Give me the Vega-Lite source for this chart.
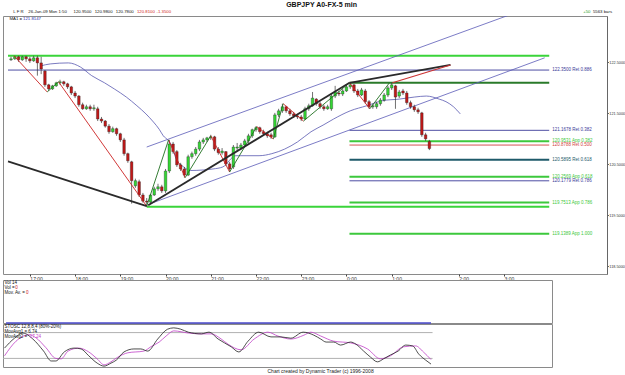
{
  "$schema": "https://vega.github.io/schema/vega-lite/v6.json",
  "background": "white",
  "padding": {"left": 2, "top": 0, "right": 0, "bottom": 0},
  "title": {"text": "GBPJPY A0-FX-5 min", "fontSize": 7, "fontWeight": "bold", "font": "Liberation Sans", "anchor": "middle", "offset": 2, "dx": 8, "color": "#111"},
  "config": {
    "font": "Liberation Sans",
    "view": {"stroke": "#8a8a8a", "strokeWidth": 1},
    "text": {"font": "Liberation Sans"}
  },
  "datasets": {
    "candles": [
      {"t":"2009-01-25T16:35","o":122.55,"h":122.61,"l":122.53,"c":122.57},
      {"t":"2009-01-25T16:40","o":122.57,"h":122.63,"l":122.55,"c":122.61},
      {"t":"2009-01-25T16:45","o":122.61,"h":122.63,"l":122.51,"c":122.55},
      {"t":"2009-01-25T16:50","o":122.55,"h":122.63,"l":122.53,"c":122.61},
      {"t":"2009-01-25T16:55","o":122.61,"h":122.63,"l":122.51,"c":122.57},
      {"t":"2009-01-25T17:00","o":122.57,"h":122.61,"l":122.49,"c":122.53},
      {"t":"2009-01-25T17:05","o":122.53,"h":122.63,"l":122.51,"c":122.59},
      {"t":"2009-01-25T17:10","o":122.59,"h":122.63,"l":122.24,"c":122.49},
      {"t":"2009-01-25T17:15","o":122.49,"h":122.61,"l":122.27,"c":122.37},
      {"t":"2009-01-25T17:20","o":122.33,"h":122.35,"l":122.02,"c":122.06},
      {"t":"2009-01-25T17:25","o":122.06,"h":122.08,"l":121.94,"c":121.98},
      {"t":"2009-01-25T17:30","o":121.98,"h":122.06,"l":121.96,"c":122.04},
      {"t":"2009-01-25T17:35","o":122.04,"h":122.12,"l":122.02,"c":122.10},
      {"t":"2009-01-25T17:40","o":122.10,"h":122.16,"l":122.06,"c":122.12},
      {"t":"2009-01-25T17:45","o":122.12,"h":122.14,"l":122.04,"c":122.08},
      {"t":"2009-01-25T17:50","o":122.08,"h":122.10,"l":121.98,"c":122.02},
      {"t":"2009-01-25T17:55","o":122.02,"h":122.04,"l":121.86,"c":121.90},
      {"t":"2009-01-25T18:00","o":121.90,"h":121.94,"l":121.80,"c":121.84},
      {"t":"2009-01-25T18:05","o":121.84,"h":121.86,"l":121.63,"c":121.67},
      {"t":"2009-01-25T18:10","o":121.67,"h":121.71,"l":121.57,"c":121.59},
      {"t":"2009-01-25T18:15","o":121.59,"h":121.67,"l":121.57,"c":121.63},
      {"t":"2009-01-25T18:20","o":121.63,"h":121.67,"l":121.55,"c":121.59},
      {"t":"2009-01-25T18:25","o":121.59,"h":121.67,"l":121.55,"c":121.61},
      {"t":"2009-01-25T18:30","o":121.59,"h":121.63,"l":121.35,"c":121.39},
      {"t":"2009-01-25T18:35","o":121.39,"h":121.43,"l":121.31,"c":121.35},
      {"t":"2009-01-25T18:40","o":121.35,"h":121.37,"l":121.22,"c":121.25},
      {"t":"2009-01-25T18:45","o":121.25,"h":121.29,"l":121.10,"c":121.14},
      {"t":"2009-01-25T18:50","o":121.14,"h":121.24,"l":121.12,"c":121.20},
      {"t":"2009-01-25T18:55","o":121.20,"h":121.22,"l":121.06,"c":121.10},
      {"t":"2009-01-25T19:00","o":121.10,"h":121.12,"l":120.94,"c":120.98},
      {"t":"2009-01-25T19:05","o":120.98,"h":121.02,"l":120.67,"c":120.71},
      {"t":"2009-01-25T19:10","o":120.71,"h":120.73,"l":120.53,"c":120.57},
      {"t":"2009-01-25T19:15","o":120.55,"h":120.57,"l":119.73,"c":120.18},
      {"t":"2009-01-25T19:20","o":120.08,"h":120.22,"l":120.04,"c":120.18},
      {"t":"2009-01-25T19:25","o":120.16,"h":120.20,"l":119.86,"c":119.90},
      {"t":"2009-01-25T19:30","o":119.90,"h":119.94,"l":119.75,"c":119.78},
      {"t":"2009-01-25T19:35","o":119.78,"h":119.84,"l":119.67,"c":119.76},
      {"t":"2009-01-25T19:40","o":119.76,"h":119.92,"l":119.73,"c":119.90},
      {"t":"2009-01-25T19:45","o":119.90,"h":120.06,"l":119.88,"c":120.02},
      {"t":"2009-01-25T19:50","o":120.02,"h":120.12,"l":119.98,"c":120.06},
      {"t":"2009-01-25T19:55","o":120.06,"h":120.10,"l":119.94,"c":119.98},
      {"t":"2009-01-25T20:00","o":119.98,"h":120.41,"l":119.94,"c":120.37},
      {"t":"2009-01-25T20:05","o":120.37,"h":120.98,"l":120.33,"c":120.90},
      {"t":"2009-01-25T20:10","o":120.90,"h":120.94,"l":120.71,"c":120.75},
      {"t":"2009-01-25T20:15","o":120.75,"h":120.78,"l":120.45,"c":120.49},
      {"t":"2009-01-25T20:20","o":120.49,"h":120.53,"l":120.37,"c":120.41},
      {"t":"2009-01-25T20:25","o":120.41,"h":120.45,"l":120.24,"c":120.29},
      {"t":"2009-01-25T20:30","o":120.29,"h":120.69,"l":120.27,"c":120.65},
      {"t":"2009-01-25T20:35","o":120.65,"h":120.75,"l":120.61,"c":120.71},
      {"t":"2009-01-25T20:40","o":120.71,"h":120.84,"l":120.67,"c":120.80},
      {"t":"2009-01-25T20:45","o":120.80,"h":120.98,"l":120.76,"c":120.94},
      {"t":"2009-01-25T20:50","o":120.94,"h":121.02,"l":120.90,"c":120.98},
      {"t":"2009-01-25T20:55","o":120.98,"h":121.04,"l":120.94,"c":121.02},
      {"t":"2009-01-25T21:00","o":121.02,"h":121.08,"l":120.98,"c":121.04},
      {"t":"2009-01-25T21:05","o":121.04,"h":121.06,"l":120.76,"c":120.80},
      {"t":"2009-01-25T21:10","o":120.80,"h":120.84,"l":120.69,"c":120.73},
      {"t":"2009-01-25T21:15","o":120.73,"h":120.82,"l":120.69,"c":120.76},
      {"t":"2009-01-25T21:20","o":120.75,"h":120.76,"l":120.47,"c":120.51},
      {"t":"2009-01-25T21:25","o":120.51,"h":120.55,"l":120.35,"c":120.41},
      {"t":"2009-01-25T21:30","o":120.45,"h":120.88,"l":120.41,"c":120.84},
      {"t":"2009-01-25T21:35","o":120.82,"h":120.92,"l":120.75,"c":120.84},
      {"t":"2009-01-25T21:40","o":120.82,"h":120.92,"l":120.78,"c":120.88},
      {"t":"2009-01-25T21:45","o":120.88,"h":121.00,"l":120.84,"c":120.96},
      {"t":"2009-01-25T21:50","o":120.96,"h":121.10,"l":120.92,"c":121.06},
      {"t":"2009-01-25T21:55","o":121.06,"h":121.20,"l":121.02,"c":121.18},
      {"t":"2009-01-25T22:00","o":121.18,"h":121.25,"l":121.14,"c":121.22},
      {"t":"2009-01-25T22:05","o":121.22,"h":121.24,"l":121.10,"c":121.14},
      {"t":"2009-01-25T22:10","o":121.14,"h":121.18,"l":121.06,"c":121.10},
      {"t":"2009-01-25T22:15","o":121.10,"h":121.14,"l":121.02,"c":121.06},
      {"t":"2009-01-25T22:20","o":121.08,"h":121.12,"l":121.00,"c":121.04},
      {"t":"2009-01-25T22:25","o":121.04,"h":121.51,"l":121.02,"c":121.47},
      {"t":"2009-01-25T22:30","o":121.47,"h":121.59,"l":121.43,"c":121.55},
      {"t":"2009-01-25T22:35","o":121.55,"h":121.69,"l":121.51,"c":121.63},
      {"t":"2009-01-25T22:40","o":121.63,"h":121.65,"l":121.51,"c":121.55},
      {"t":"2009-01-25T22:45","o":121.55,"h":121.59,"l":121.45,"c":121.49},
      {"t":"2009-01-25T22:50","o":121.49,"h":121.53,"l":121.41,"c":121.45},
      {"t":"2009-01-25T22:55","o":121.45,"h":121.49,"l":121.39,"c":121.43},
      {"t":"2009-01-25T23:00","o":121.43,"h":121.47,"l":121.35,"c":121.39},
      {"t":"2009-01-25T23:05","o":121.39,"h":121.63,"l":121.37,"c":121.59},
      {"t":"2009-01-25T23:10","o":121.59,"h":121.69,"l":121.55,"c":121.65},
      {"t":"2009-01-25T23:15","o":121.65,"h":121.92,"l":121.63,"c":121.80},
      {"t":"2009-01-25T23:20","o":121.78,"h":121.80,"l":121.65,"c":121.69},
      {"t":"2009-01-25T23:25","o":121.69,"h":121.73,"l":121.59,"c":121.63},
      {"t":"2009-01-25T23:30","o":121.63,"h":121.67,"l":121.55,"c":121.59},
      {"t":"2009-01-25T23:35","o":121.59,"h":121.67,"l":121.57,"c":121.63},
      {"t":"2009-01-25T23:40","o":121.59,"h":121.88,"l":121.55,"c":121.84},
      {"t":"2009-01-25T23:45","o":121.84,"h":122.04,"l":121.80,"c":121.92},
      {"t":"2009-01-25T23:50","o":121.90,"h":121.94,"l":121.84,"c":121.88},
      {"t":"2009-01-25T23:55","o":121.88,"h":121.98,"l":121.84,"c":121.94},
      {"t":"2009-01-26T00:00","o":121.94,"h":122.06,"l":121.92,"c":122.02},
      {"t":"2009-01-26T00:05","o":122.02,"h":122.10,"l":121.98,"c":122.06},
      {"t":"2009-01-26T00:10","o":122.06,"h":122.08,"l":121.90,"c":121.94},
      {"t":"2009-01-26T00:15","o":121.94,"h":121.98,"l":121.82,"c":121.86},
      {"t":"2009-01-26T00:20","o":121.86,"h":122.00,"l":121.84,"c":121.96},
      {"t":"2009-01-26T00:25","o":121.94,"h":121.98,"l":121.69,"c":121.73},
      {"t":"2009-01-26T00:30","o":121.73,"h":121.76,"l":121.59,"c":121.63},
      {"t":"2009-01-26T00:35","o":121.63,"h":121.69,"l":121.59,"c":121.65},
      {"t":"2009-01-26T00:40","o":121.63,"h":121.73,"l":121.59,"c":121.69},
      {"t":"2009-01-26T00:45","o":121.69,"h":121.80,"l":121.65,"c":121.76},
      {"t":"2009-01-26T00:50","o":121.76,"h":121.90,"l":121.73,"c":121.86},
      {"t":"2009-01-26T00:55","o":121.86,"h":122.04,"l":121.82,"c":122.00},
      {"t":"2009-01-26T01:00","o":122.00,"h":122.10,"l":121.96,"c":122.06},
      {"t":"2009-01-26T01:05","o":122.04,"h":122.06,"l":121.59,"c":121.82},
      {"t":"2009-01-26T01:10","o":121.84,"h":121.96,"l":121.80,"c":121.92},
      {"t":"2009-01-26T01:15","o":121.94,"h":121.98,"l":121.86,"c":121.90},
      {"t":"2009-01-26T01:20","o":121.90,"h":121.94,"l":121.67,"c":121.71},
      {"t":"2009-01-26T01:25","o":121.71,"h":121.75,"l":121.59,"c":121.63},
      {"t":"2009-01-26T01:30","o":121.63,"h":121.67,"l":121.53,"c":121.57},
      {"t":"2009-01-26T01:35","o":121.57,"h":121.61,"l":121.49,"c":121.53},
      {"t":"2009-01-26T01:40","o":121.51,"h":121.53,"l":121.04,"c":121.08},
      {"t":"2009-01-26T01:45","o":121.08,"h":121.12,"l":120.96,"c":121.00},
      {"t":"2009-01-26T01:50","o":120.95,"h":120.98,"l":120.78,"c":120.81}
    ],
    "fib": [
      {"kind":"swing","from":"2009-01-25T16:31","to":"2009-01-26T04:29","price":122.63,"label":""},
      {"kind":"ret","from":"2009-01-25T16:31","to":"2009-01-26T04:29","price":122.35,"label":"122.3500 Ret 0.886"},
      {"kind":"peak","from":"2009-01-26T00:04","to":"2009-01-26T04:29","price":122.10,"label":""},
      {"kind":"ret","from":"2009-01-26T00:04","to":"2009-01-26T04:29","price":121.1678,"label":"121.1678 Ret 0.382"},
      {"kind":"app","from":"2009-01-26T00:04","to":"2009-01-26T04:29","price":120.9531,"label":"120.9531 App 0.382"},
      {"kind":"ret50","from":"2009-01-26T00:04","to":"2009-01-26T04:29","price":120.8788,"label":"120.8788 Ret 0.500"},
      {"kind":"ret618","from":"2009-01-26T00:04","to":"2009-01-26T04:29","price":120.5895,"label":"120.5895 Ret 0.618"},
      {"kind":"app","from":"2009-01-26T00:04","to":"2009-01-26T04:29","price":120.2569,"label":"120.2569 App 0.618"},
      {"kind":"ret","from":"2009-01-26T00:04","to":"2009-01-26T04:29","price":120.1779,"label":"120.1779 Ret 0.786"},
      {"kind":"app","from":"2009-01-26T00:04","to":"2009-01-26T04:29","price":119.7513,"label":"119.7513 App 0.786"},
      {"kind":"app","from":"2009-01-26T00:04","to":"2009-01-26T04:29","price":119.1389,"label":"119.1389 App 1.000"},
      {"kind":"swing","from":"2009-01-25T19:35","to":"2009-01-26T04:29","price":119.67,"label":""}
    ],
    "trend": [
      {"id":"T1","kind":"black","t":"2009-01-25T16:31","p":120.56},
      {"id":"T1","kind":"black","t":"2009-01-25T19:35","p":119.68},
      {"id":"T2","kind":"black","t":"2009-01-25T19:37","p":119.70},
      {"id":"T2","kind":"black","t":"2009-01-26T00:04","p":122.10},
      {"id":"T3","kind":"black","t":"2009-01-26T00:04","p":122.10},
      {"id":"T3","kind":"black","t":"2009-01-26T02:18","p":122.45},
      {"id":"R1","kind":"red","t":"2009-01-26T01:01","p":122.10},
      {"id":"R1","kind":"red","t":"2009-01-26T02:18","p":122.45},
      {"id":"C1","kind":"chan","t":"2009-01-25T19:35","p":120.84},
      {"id":"C1","kind":"chan","t":"2009-01-26T03:36","p":123.43},
      {"id":"C2","kind":"chan","t":"2009-01-25T19:40","p":119.73},
      {"id":"C2","kind":"chan","t":"2009-01-26T04:23","p":122.59}
    ],
    "zig": [
      {"leg":1,"dir":"down","t":"2009-01-25T16:39","p":122.63},
      {"leg":1,"dir":"down","t":"2009-01-25T17:23","p":121.92},
      {"leg":2,"dir":"up","t":"2009-01-25T17:23","p":121.92},
      {"leg":2,"dir":"up","t":"2009-01-25T17:38","p":122.12},
      {"leg":3,"dir":"down","t":"2009-01-25T17:38","p":122.12},
      {"leg":3,"dir":"down","t":"2009-01-25T19:35","p":119.68},
      {"leg":4,"dir":"up","t":"2009-01-25T19:35","p":119.68},
      {"leg":4,"dir":"up","t":"2009-01-25T20:04","p":120.98},
      {"leg":5,"dir":"down","t":"2009-01-25T20:04","p":120.98},
      {"leg":5,"dir":"down","t":"2009-01-25T20:26","p":120.24},
      {"leg":6,"dir":"up","t":"2009-01-25T20:26","p":120.24},
      {"leg":6,"dir":"up","t":"2009-01-25T21:00","p":121.06},
      {"leg":7,"dir":"down","t":"2009-01-25T21:00","p":121.06},
      {"leg":7,"dir":"down","t":"2009-01-25T21:25","p":120.35},
      {"leg":8,"dir":"up","t":"2009-01-25T21:25","p":120.35},
      {"leg":8,"dir":"up","t":"2009-01-25T22:01","p":121.24},
      {"leg":9,"dir":"down","t":"2009-01-25T22:01","p":121.24},
      {"leg":9,"dir":"down","t":"2009-01-25T22:23","p":121.00},
      {"leg":10,"dir":"up","t":"2009-01-25T22:23","p":121.00},
      {"leg":10,"dir":"up","t":"2009-01-25T22:36","p":121.69},
      {"leg":11,"dir":"down","t":"2009-01-25T22:36","p":121.69},
      {"leg":11,"dir":"down","t":"2009-01-25T23:03","p":121.35},
      {"leg":12,"dir":"up","t":"2009-01-25T23:03","p":121.35},
      {"leg":12,"dir":"up","t":"2009-01-26T00:04","p":122.10},
      {"leg":13,"dir":"down","t":"2009-01-26T00:04","p":122.10},
      {"leg":13,"dir":"down","t":"2009-01-26T00:31","p":121.59},
      {"leg":14,"dir":"up","t":"2009-01-26T00:31","p":121.59},
      {"leg":14,"dir":"up","t":"2009-01-26T00:57","p":122.10}
    ],
    "ma": [
      {"t":"2009-01-25T17:14","p":122.43},{"t":"2009-01-25T17:27","p":122.47},{"t":"2009-01-25T17:51","p":122.49},
      {"t":"2009-01-25T18:07","p":122.41},{"t":"2009-01-25T18:22","p":122.24},{"t":"2009-01-25T18:39","p":122.10},
      {"t":"2009-01-25T18:52","p":121.98},{"t":"2009-01-25T19:08","p":121.82},{"t":"2009-01-25T19:22","p":121.65},
      {"t":"2009-01-25T19:34","p":121.49},{"t":"2009-01-25T19:44","p":121.33},{"t":"2009-01-25T19:52","p":121.18},
      {"t":"2009-01-25T19:57","p":121.06},{"t":"2009-01-25T20:03","p":120.98},{"t":"2009-01-25T20:07","p":120.90},
      {"t":"2009-01-25T20:14","p":120.61},{"t":"2009-01-25T20:24","p":120.45},{"t":"2009-01-25T20:33","p":120.38},
      {"t":"2009-01-25T20:50","p":120.39},{"t":"2009-01-25T21:03","p":120.41},{"t":"2009-01-25T21:16","p":120.45},
      {"t":"2009-01-25T21:33","p":120.67},{"t":"2009-01-25T21:48","p":120.67},{"t":"2009-01-25T22:04","p":120.67},
      {"t":"2009-01-25T22:21","p":120.71},{"t":"2009-01-25T22:38","p":120.80},{"t":"2009-01-25T22:55","p":120.94},
      {"t":"2009-01-25T23:13","p":121.14},{"t":"2009-01-25T23:29","p":121.27},{"t":"2009-01-25T23:43","p":121.39},
      {"t":"2009-01-26T00:05","p":121.55},{"t":"2009-01-26T00:27","p":121.65},{"t":"2009-01-26T00:48","p":121.75},
      {"t":"2009-01-26T01:10","p":121.78},{"t":"2009-01-26T01:30","p":121.82},{"t":"2009-01-26T01:46","p":121.84},
      {"t":"2009-01-26T02:03","p":121.78},{"t":"2009-01-26T02:12","p":121.73},{"t":"2009-01-26T02:22","p":121.63},
      {"t":"2009-01-26T02:31","p":121.49}
    ],
    "header": [
      {"t":"2009-01-25T16:38","p":123.48,"text":"L  F  R","tone":"black"},
      {"t":"2009-01-25T16:58","p":123.48,"text":"26-Jan-09 Mon 1:50","tone":"black"},
      {"t":"2009-01-25T17:58","p":123.48,"text":"120.9500","tone":"black"},
      {"t":"2009-01-25T18:26","p":123.48,"text":"120.9800","tone":"black"},
      {"t":"2009-01-25T18:54","p":123.48,"text":"120.7800","tone":"black"},
      {"t":"2009-01-25T19:22","p":123.48,"text":"120.8100","tone":"red"},
      {"t":"2009-01-25T19:48","p":123.48,"text":"-1.3500","tone":"red"},
      {"t":"2009-01-26T05:14","p":123.48,"text":"+50","tone":"green"},
      {"t":"2009-01-26T05:27","p":123.48,"text":"5563 bars","tone":"black"},
      {"t":"2009-01-25T16:33","p":123.36,"text":"MA1 =","tone":"black"},
      {"t":"2009-01-25T16:51","p":123.36,"text":"121.8147","tone":"blue"}
    ],
    "volnotes": [
      {"t":"2009-01-25T16:33","v":9.2,"text":"Vol 14","tone":"black"},
      {"t":"2009-01-25T16:33","v":8.1,"text":"Vol =","tone":"black"},
      {"t":"2009-01-25T16:47","v":8.1,"text":"0","tone":"red"},
      {"t":"2009-01-25T16:33","v":7.0,"text":"Mov. Av. =","tone":"black"},
      {"t":"2009-01-25T17:01","v":7.0,"text":"0","tone":"red"}
    ],
    "stochnotes": [
      {"t":"2009-01-25T16:33","v":92,"text":"STOSC 12,8,8,4 (80%-20%)","tone":"black"},
      {"t":"2009-01-25T16:33","v":81,"text":"MovAvg1 = 6.74","tone":"black"},
      {"t":"2009-01-25T16:33","v":69,"text":"MovAvg2 =","tone":"black"},
      {"t":"2009-01-25T17:06","v":69,"text":"17.24","tone":"purple"}
    ],
    "levels": [{"v":80},{"v":20}],
    "osc": [
      {"s":"stoch","t":"2009-01-25T16:33","v":44},{"s":"stoch","t":"2009-01-25T16:46","v":67},{"s":"stoch","t":"2009-01-25T16:57","v":79},
      {"s":"stoch","t":"2009-01-25T17:10","v":65},{"s":"stoch","t":"2009-01-25T17:24","v":37},{"s":"stoch","t":"2009-01-25T17:34","v":14},
      {"s":"stoch","t":"2009-01-25T17:40","v":14},{"s":"stoch","t":"2009-01-25T17:51","v":35},{"s":"stoch","t":"2009-01-25T18:04","v":44},
      {"s":"stoch","t":"2009-01-25T18:13","v":42},{"s":"stoch","t":"2009-01-25T18:23","v":26},{"s":"stoch","t":"2009-01-25T18:34","v":9},
      {"s":"stoch","t":"2009-01-25T18:43","v":2},{"s":"stoch","t":"2009-01-25T18:52","v":9},{"s":"stoch","t":"2009-01-25T18:59","v":16},
      {"s":"stoch","t":"2009-01-25T19:09","v":35},{"s":"stoch","t":"2009-01-25T19:22","v":42},{"s":"stoch","t":"2009-01-25T19:31","v":42},
      {"s":"stoch","t":"2009-01-25T19:40","v":37},{"s":"stoch","t":"2009-01-25T19:53","v":65},{"s":"stoch","t":"2009-01-25T20:06","v":88},
      {"s":"stoch","t":"2009-01-25T20:14","v":91},{"s":"stoch","t":"2009-01-25T20:23","v":88},{"s":"stoch","t":"2009-01-25T20:33","v":81},
      {"s":"stoch","t":"2009-01-25T20:50","v":77},{"s":"stoch","t":"2009-01-25T21:00","v":81},{"s":"stoch","t":"2009-01-25T21:12","v":65},
      {"s":"stoch","t":"2009-01-25T21:29","v":47},{"s":"stoch","t":"2009-01-25T21:39","v":35},{"s":"stoch","t":"2009-01-25T21:51","v":60},
      {"s":"stoch","t":"2009-01-25T22:05","v":81},{"s":"stoch","t":"2009-01-25T22:21","v":70},{"s":"stoch","t":"2009-01-25T22:34","v":70},
      {"s":"stoch","t":"2009-01-25T22:47","v":67},{"s":"stoch","t":"2009-01-25T23:03","v":81},{"s":"stoch","t":"2009-01-25T23:17","v":74},
      {"s":"stoch","t":"2009-01-25T23:26","v":65},{"s":"stoch","t":"2009-01-25T23:33","v":58},{"s":"stoch","t":"2009-01-25T23:43","v":58},
      {"s":"stoch","t":"2009-01-25T23:52","v":51},{"s":"stoch","t":"2009-01-26T00:05","v":58},{"s":"stoch","t":"2009-01-26T00:12","v":53},
      {"s":"stoch","t":"2009-01-26T00:22","v":37},{"s":"stoch","t":"2009-01-26T00:31","v":23},{"s":"stoch","t":"2009-01-26T00:40","v":12},
      {"s":"stoch","t":"2009-01-26T00:48","v":19},{"s":"stoch","t":"2009-01-26T00:57","v":28},{"s":"stoch","t":"2009-01-26T01:07","v":37},
      {"s":"stoch","t":"2009-01-26T01:17","v":51},{"s":"stoch","t":"2009-01-26T01:26","v":49},{"s":"stoch","t":"2009-01-26T01:34","v":30},
      {"s":"stoch","t":"2009-01-26T01:43","v":16},{"s":"stoch","t":"2009-01-26T01:50","v":6.74},
      {"s":"avg","t":"2009-01-25T16:33","v":26},{"s":"avg","t":"2009-01-25T16:48","v":60},{"s":"avg","t":"2009-01-25T17:05","v":75},
      {"s":"avg","t":"2009-01-25T17:14","v":68},{"s":"avg","t":"2009-01-25T17:27","v":45},{"s":"avg","t":"2009-01-25T17:40","v":20},
      {"s":"avg","t":"2009-01-25T17:47","v":19},{"s":"avg","t":"2009-01-25T17:56","v":37},{"s":"avg","t":"2009-01-25T18:10","v":44},
      {"s":"avg","t":"2009-01-25T18:23","v":35},{"s":"avg","t":"2009-01-25T18:34","v":19},{"s":"avg","t":"2009-01-25T18:43","v":5},
      {"s":"avg","t":"2009-01-25T18:52","v":12},{"s":"avg","t":"2009-01-25T19:01","v":23},{"s":"avg","t":"2009-01-25T19:14","v":33},
      {"s":"avg","t":"2009-01-25T19:35","v":37},{"s":"avg","t":"2009-01-25T19:44","v":47},{"s":"avg","t":"2009-01-25T19:55","v":58},
      {"s":"avg","t":"2009-01-25T20:04","v":72},{"s":"avg","t":"2009-01-25T20:14","v":84},{"s":"avg","t":"2009-01-25T20:33","v":79},
      {"s":"avg","t":"2009-01-25T20:50","v":77},{"s":"avg","t":"2009-01-25T21:03","v":77},{"s":"avg","t":"2009-01-25T21:16","v":65},
      {"s":"avg","t":"2009-01-25T21:25","v":53},{"s":"avg","t":"2009-01-25T21:42","v":40},{"s":"avg","t":"2009-01-25T21:59","v":65},
      {"s":"avg","t":"2009-01-25T22:17","v":81},{"s":"avg","t":"2009-01-25T22:30","v":72},{"s":"avg","t":"2009-01-25T22:47","v":65},
      {"s":"avg","t":"2009-01-25T23:04","v":74},{"s":"avg","t":"2009-01-25T23:13","v":81},{"s":"avg","t":"2009-01-25T23:26","v":72},
      {"s":"avg","t":"2009-01-25T23:43","v":60},{"s":"avg","t":"2009-01-26T00:05","v":56},{"s":"avg","t":"2009-01-26T00:27","v":42},
      {"s":"avg","t":"2009-01-26T00:44","v":19},{"s":"avg","t":"2009-01-26T00:57","v":26},{"s":"avg","t":"2009-01-26T01:14","v":47},
      {"s":"avg","t":"2009-01-26T01:30","v":49},{"s":"avg","t":"2009-01-26T01:40","v":35},{"s":"avg","t":"2009-01-26T01:50","v":17.24}
    ]
  },
  "vconcat": [
    {
      "width": 604,
      "height": 258,
      "layer": [
        {
          "mark": {"type": "rect", "color": "#dcdcdc"},
          "encoding": {
            "x": {"datum": {"year": 2009, "month": 1, "date": 25, "hours": 16, "minutes": 31}, "type": "temporal",
              "scale": {"domain": [{"year": 2009, "month": 1, "date": 25, "hours": 16, "minutes": 31}, {"year": 2009, "month": 1, "date": 26, "hours": 5, "minutes": 39}]},
              "axis": {
                "values": [
                  {"year": 2009, "month": 1, "date": 25, "hours": 17},
                  {"year": 2009, "month": 1, "date": 25, "hours": 18},
                  {"year": 2009, "month": 1, "date": 25, "hours": 19},
                  {"year": 2009, "month": 1, "date": 25, "hours": 20},
                  {"year": 2009, "month": 1, "date": 25, "hours": 21},
                  {"year": 2009, "month": 1, "date": 25, "hours": 22},
                  {"year": 2009, "month": 1, "date": 25, "hours": 23},
                  {"year": 2009, "month": 1, "date": 26, "hours": 0},
                  {"year": 2009, "month": 1, "date": 26, "hours": 1},
                  {"year": 2009, "month": 1, "date": 26, "hours": 2, "minutes": 29},
                  {"year": 2009, "month": 1, "date": 26, "hours": 3, "minutes": 29}
                ],
                "labelExpr": "timeFormat(datum.value, '%-H') + ':00'",
                "labelFontSize": 5, "labelAlign": "left", "labelPadding": 0, "tickSize": 2,
                "domain": false, "grid": false, "title": null, "labelColor": "#333", "tickColor": "#444",
                "labelFlush": false, "labelOverlap": false
              }
            },
            "x2": {"datum": {"year": 2009, "month": 1, "date": 26, "hours": 5, "minutes": 59}},
            "y": {"datum": 123.41, "type": "quantitative",
              "scale": {"domain": [118.35, 123.41], "zero": false, "nice": false},
              "axis": {"orient": "right", "values": [118.5, 119, 119.5, 120, 120.5, 121, 121.5, 122, 122.5, 123],
                "format": ".4f", "labelFontSize": 3.8, "tickSize": 1.5, "labelPadding": 0.3, "title": null, "grid": false,
                "domainColor": "#666", "tickColor": "#666", "labelColor": "#333"}
            },
            "y2": {"datum": 123.55}
          }
        },
        {
          "mark": {"type": "rect", "color": "#ffffe4", "stroke": "#b0b0b0", "strokeWidth": 0.5},
          "encoding": {
            "x": {"datum": {"year": 2009, "month": 1, "date": 25, "hours": 16, "minutes": 56}, "type": "temporal"},
            "x2": {"datum": {"year": 2009, "month": 1, "date": 25, "hours": 20, "minutes": 14}},
            "y": {"datum": 123.42, "type": "quantitative"},
            "y2": {"datum": 123.54}
          }
        },
        {
          "data": {"name": "fib"},
          "transform": [{"filter": {"field": "kind", "oneOf": ["ret", "ret50"]}}],
          "mark": {"type": "rule", "strokeWidth": 0.9},
          "encoding": {
            "x": {"field": "from", "type": "temporal"},
            "x2": {"field": "to"},
            "y": {"field": "price", "type": "quantitative"},
            "color": {"field": "kind", "type": "nominal", "legend": null,
              "scale": {"domain": ["swing", "ret", "peak", "app", "ret50", "ret618"], "range": ["#3ad43a", "#3a3a98", "#2a7a2a", "#3cc83c", "#d04040", "#1e5a6a"]}}
          }
        },
        {
          "data": {"name": "fib"},
          "transform": [{"filter": {"field": "kind", "oneOf": ["swing", "app", "ret618", "peak"]}}],
          "mark": {"type": "rule", "strokeWidth": 2},
          "encoding": {
            "x": {"field": "from", "type": "temporal"},
            "x2": {"field": "to"},
            "y": {"field": "price", "type": "quantitative"},
            "color": {"field": "kind", "type": "nominal", "legend": null,
              "scale": {"domain": ["swing", "ret", "peak", "app", "ret50", "ret618"], "range": ["#3ad43a", "#3a3a98", "#2a7a2a", "#3cc83c", "#d04040", "#1e5a6a"]}}
          }
        },
        {
          "data": {"name": "fib"},
          "mark": {"type": "text", "align": "left", "baseline": "middle", "dx": 3, "fontSize": 4.5},
          "encoding": {
            "x": {"field": "to", "type": "temporal"},
            "y": {"field": "price", "type": "quantitative"},
            "text": {"field": "label"},
            "color": {"field": "kind", "type": "nominal", "legend": null,
              "scale": {"domain": ["swing", "ret", "peak", "app", "ret50", "ret618"], "range": ["#3ad43a", "#3a3a98", "#2a7a2a", "#3cc83c", "#d04040", "#1e5a6a"]}}
          }
        },
        {
          "data": {"name": "trend"},
          "transform": [{"filter": "datum.kind == 'chan'"}],
          "mark": {"type": "line", "color": "#5a5ab8", "strokeWidth": 0.8, "clip": true},
          "encoding": {
            "x": {"field": "t", "type": "temporal"},
            "y": {"field": "p", "type": "quantitative"},
            "detail": {"field": "id"}
          }
        },
        {
          "data": {"name": "ma"},
          "mark": {"type": "line", "color": "#5858b0", "strokeWidth": 0.8, "interpolate": "monotone"},
          "encoding": {
            "x": {"field": "t", "type": "temporal"},
            "y": {"field": "p", "type": "quantitative"}
          }
        },
        {
          "data": {"name": "candles"},
          "mark": {"type": "rule", "color": "#333333", "strokeWidth": 0.7},
          "encoding": {
            "x": {"field": "t", "type": "temporal"},
            "y": {"field": "l", "type": "quantitative"},
            "y2": {"field": "h"}
          }
        },
        {
          "data": {"name": "candles"},
          "mark": {"type": "bar", "size": 2.6, "stroke": "#222222", "strokeWidth": 0.35},
          "encoding": {
            "x": {"field": "t", "type": "temporal"},
            "y": {"field": "o", "type": "quantitative"},
            "y2": {"field": "c"},
            "color": {"condition": {"test": "datum.c >= datum.o", "value": "#33d633"}, "value": "#c01818"}
          }
        },
        {
          "data": {"name": "zig"},
          "transform": [{"filter": "datum.dir == 'down'"}],
          "mark": {"type": "line", "color": "#cc2222", "strokeWidth": 0.9},
          "encoding": {
            "x": {"field": "t", "type": "temporal"},
            "y": {"field": "p", "type": "quantitative"},
            "detail": {"field": "leg"}
          }
        },
        {
          "data": {"name": "zig"},
          "transform": [{"filter": "datum.dir == 'up'"}],
          "mark": {"type": "line", "color": "#1f6f1f", "strokeWidth": 0.9},
          "encoding": {
            "x": {"field": "t", "type": "temporal"},
            "y": {"field": "p", "type": "quantitative"},
            "detail": {"field": "leg"}
          }
        },
        {
          "data": {"name": "trend"},
          "transform": [{"filter": "datum.kind == 'black'"}],
          "mark": {"type": "line", "color": "#2a2a2a", "strokeWidth": 1.8},
          "encoding": {
            "x": {"field": "t", "type": "temporal"},
            "y": {"field": "p", "type": "quantitative"},
            "detail": {"field": "id"}
          }
        },
        {
          "data": {"name": "trend"},
          "transform": [{"filter": "datum.kind == 'red'"}],
          "mark": {"type": "line", "color": "#cc3333", "strokeWidth": 1.2},
          "encoding": {
            "x": {"field": "t", "type": "temporal"},
            "y": {"field": "p", "type": "quantitative"},
            "detail": {"field": "id"}
          }
        },
        {
          "data": {"name": "header"},
          "transform": [{"filter": "datum.tone == 'black'"}],
          "mark": {"type": "text", "align": "left", "baseline": "middle", "fontSize": 4.3, "color": "#111111"},
          "encoding": {"x": {"field": "t", "type": "temporal"}, "y": {"field": "p", "type": "quantitative"}, "text": {"field": "text"}}
        },
        {
          "data": {"name": "header"},
          "transform": [{"filter": "datum.tone == 'red'"}],
          "mark": {"type": "text", "align": "left", "baseline": "middle", "fontSize": 4.3, "color": "#d02020"},
          "encoding": {"x": {"field": "t", "type": "temporal"}, "y": {"field": "p", "type": "quantitative"}, "text": {"field": "text"}}
        },
        {
          "data": {"name": "header"},
          "transform": [{"filter": "datum.tone == 'green'"}],
          "mark": {"type": "text", "align": "left", "baseline": "middle", "fontSize": 4.3, "color": "#1a9a1a"},
          "encoding": {"x": {"field": "t", "type": "temporal"}, "y": {"field": "p", "type": "quantitative"}, "text": {"field": "text"}}
        },
        {
          "data": {"name": "header"},
          "transform": [{"filter": "datum.tone == 'blue'"}],
          "mark": {"type": "text", "align": "left", "baseline": "middle", "fontSize": 4.3, "color": "#2a2ab0"},
          "encoding": {"x": {"field": "t", "type": "temporal"}, "y": {"field": "p", "type": "quantitative"}, "text": {"field": "text"}}
        },
        {
          "mark": {"type": "rect", "color": "#ffff55"},
          "encoding": {
            "x": {"datum": {"year": 2009, "month": 1, "date": 26, "hours": 5, "minutes": 39}, "type": "temporal"},
            "x2": {"datum": {"year": 2009, "month": 1, "date": 26, "hours": 6, "minutes": 0}},
            "y": {"datum": 120.86, "type": "quantitative"},
            "y2": {"datum": 120.75}
          }
        },
        {
          "mark": {"type": "text", "align": "left", "baseline": "middle", "fontSize": 3.8, "dx": 0.8, "color": "#111111"},
          "encoding": {
            "x": {"datum": {"year": 2009, "month": 1, "date": 26, "hours": 5, "minutes": 39}, "type": "temporal"},
            "y": {"datum": 120.81, "type": "quantitative"},
            "text": {"value": "120.8100"}
          }
        }
      ]
    },
    {
      "vconcat": [
        {
          "width": 549,
          "height": 43,
          "layer": [
            {
              "data": {"name": "candles"},
              "mark": {"type": "line", "color": "#4a4acc", "strokeWidth": 1.5},
              "encoding": {
                "x": {"field": "t", "type": "temporal", "axis": null,
                  "scale": {"domain": [{"year": 2009, "month": 1, "date": 25, "hours": 16, "minutes": 31}, {"year": 2009, "month": 1, "date": 26, "hours": 4, "minutes": 28}]}},
                "y": {"datum": 0, "type": "quantitative", "axis": null, "scale": {"domain": [0, 10]}}
              }
            },
            {
              "data": {"name": "volnotes"},
              "transform": [{"filter": "datum.tone == 'black'"}],
              "mark": {"type": "text", "align": "left", "baseline": "middle", "fontSize": 4.5, "color": "#111111"},
              "encoding": {"x": {"field": "t", "type": "temporal"}, "y": {"field": "v", "type": "quantitative"}, "text": {"field": "text"}}
            },
            {
              "data": {"name": "volnotes"},
              "transform": [{"filter": "datum.tone == 'red'"}],
              "mark": {"type": "text", "align": "left", "baseline": "middle", "fontSize": 4.5, "color": "#d02020"},
              "encoding": {"x": {"field": "t", "type": "temporal"}, "y": {"field": "v", "type": "quantitative"}, "text": {"field": "text"}}
            }
          ]
        },
        {
          "width": 549,
          "height": 43,
          "title": {"text": "Chart created by Dynamic Trader  (c) 1996-2008", "orient": "bottom", "anchor": "start", "dx": 265, "offset": 1, "fontSize": 5, "fontWeight": "normal", "color": "#222"},
          "layer": [
            {
              "data": {"name": "levels"},
              "mark": {"type": "rule", "color": "#b0b0b0", "strokeWidth": 1},
              "encoding": {
                "x": {"datum": {"year": 2009, "month": 1, "date": 25, "hours": 16, "minutes": 31}, "type": "temporal", "axis": null,
                  "scale": {"domain": [{"year": 2009, "month": 1, "date": 25, "hours": 16, "minutes": 31}, {"year": 2009, "month": 1, "date": 26, "hours": 4, "minutes": 28}]}},
                "x2": {"datum": {"year": 2009, "month": 1, "date": 26, "hours": 1, "minutes": 52}},
                "y": {"field": "v", "type": "quantitative", "axis": null, "scale": {"domain": [0, 100]}}
              }
            },
            {
              "data": {"name": "osc"},
              "transform": [{"filter": "datum.s == 'avg'"}],
              "mark": {"type": "line", "strokeWidth": 0.8, "interpolate": "monotone", "color": "#c040c8"},
              "encoding": {
                "x": {"field": "t", "type": "temporal"},
                "y": {"field": "v", "type": "quantitative"}
              }
            },
            {
              "data": {"name": "osc"},
              "transform": [{"filter": "datum.s == 'stoch'"}],
              "mark": {"type": "line", "strokeWidth": 0.8, "interpolate": "monotone", "color": "#222222"},
              "encoding": {
                "x": {"field": "t", "type": "temporal"},
                "y": {"field": "v", "type": "quantitative"}
              }
            },
            {
              "mark": {"type": "rule", "color": "#000000", "strokeWidth": 1.5},
              "encoding": {"y": {"datum": 100, "type": "quantitative"}}
            },
            {
              "data": {"name": "stochnotes"},
              "transform": [{"filter": "datum.tone == 'black'"}],
              "mark": {"type": "text", "align": "left", "baseline": "middle", "fontSize": 4.5, "color": "#111111"},
              "encoding": {"x": {"field": "t", "type": "temporal"}, "y": {"field": "v", "type": "quantitative"}, "text": {"field": "text"}}
            },
            {
              "data": {"name": "stochnotes"},
              "transform": [{"filter": "datum.tone == 'purple'"}],
              "mark": {"type": "text", "align": "left", "baseline": "middle", "fontSize": 4.5, "color": "#c040c8"},
              "encoding": {"x": {"field": "t", "type": "temporal"}, "y": {"field": "v", "type": "quantitative"}, "text": {"field": "text"}}
            }
          ]
        }
      ],
      "spacing": 1,
      "bounds": "flush"
    }
  ],
  "spacing": 6,
  "bounds": "flush"
}
